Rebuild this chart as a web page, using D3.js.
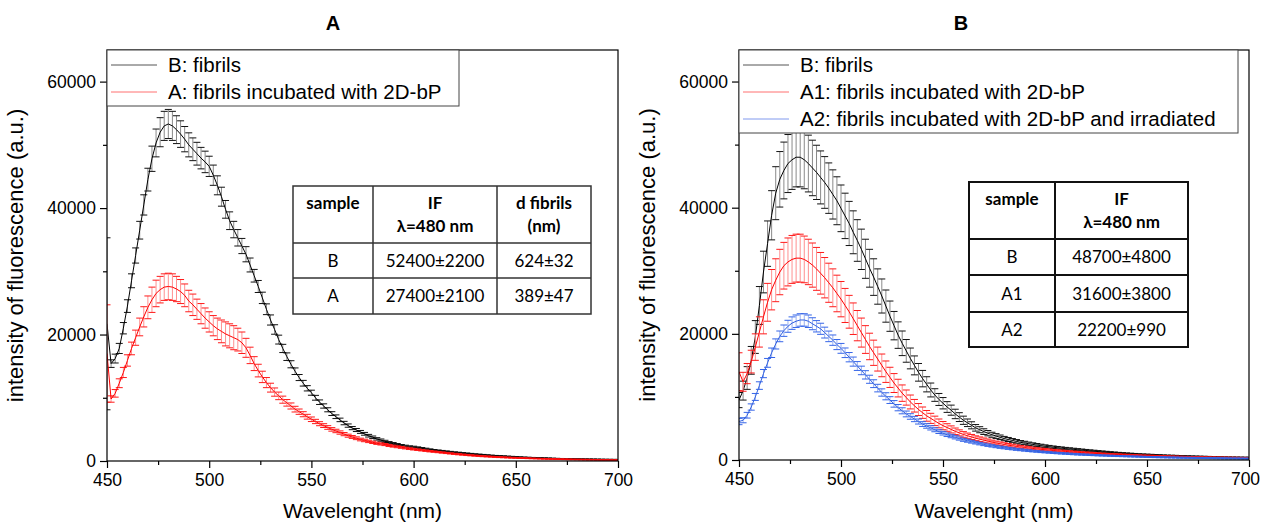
<!DOCTYPE html>
<html lang="en">
<head>
<meta charset="UTF-8">
<title>Fluorescence spectra of fibrils</title>
<style>
    body { margin: 0; background: #fff; }
    svg text { font-family: "Liberation Sans", Arial, sans-serif; }
    .tbl text { font-family: Lato, "Open Sans", sans-serif; }
</style>
</head>
<body>
<div id="chart"></div>
<script src="https://cdn.jsdelivr.net/npm/d3@7"></script>
<script>
// wavelength grid (nm), one reading every 2 nm
const wavelengths = d3.range(450, 701, 2);
const xTicks = [450, 500, 550, 600, 650, 700];
const xMinor = [475, 525, 575, 625, 675];
const yTicks = [0, 20000, 40000, 60000];
const yMinor = [10000, 30000, 50000];

// panel A, B: fibrils
const aFibrils = [
    21700, 15400, 16200, 17800, 21000, 24500, 28500, 32500, 36500, 40500, 44500, 47800, 50300, 52000, 53000, 53300, 53000, 52400, 51700, 50900, 50000, 49300, 48600, 47900, 47300,
    46600, 45200, 43600, 41800, 39800, 38000, 36600, 35300, 34000, 32700, 31000, 29300, 27600, 25800, 24000, 22300, 20800, 19200, 17800, 16500, 15300, 14200, 13200, 12300, 11500,
    10800, 10000, 9300, 8700, 8100, 7500, 7000, 6500, 6000, 5600, 5200, 4900, 4600, 4300, 4000, 3750, 3500, 3300, 3100, 2900, 2750, 2600, 2450, 2350, 2250,
    2200, 2100, 2000, 1900, 1800, 1700, 1630, 1560, 1490, 1420, 1350, 1290, 1230, 1170, 1110, 1050, 1000, 950, 900, 850, 800, 770, 740, 700, 660,
    620, 590, 560, 530, 500, 480, 460, 440, 420, 400, 370, 350, 330, 320, 310, 300, 290, 280, 270, 260, 250, 240, 230, 220, 210, 200
];
const aFibrilsErr = [
    13600, 600, 700, 800, 900, 1000, 1100, 1200, 1400, 1600, 1800, 2000, 2200, 2300, 2300, 2300, 2300, 2200, 2100, 2000, 1900, 1800, 1800, 1700, 1700,
    1600, 1600, 1500, 1500, 1400, 1400, 1300, 1300, 1200, 1200, 1100, 1000, 950, 900, 850, 800, 750, 700, 650, 600, 560, 520, 480, 450, 420,
    400, 380, 360, 340, 320, 300, 290, 280, 270, 260, 250, 240, 230, 220, 210, 200, 190, 180, 175, 170, 165, 160, 155, 150, 145,
    140, 135, 130, 125, 120, 115, 110, 108, 106, 104, 102, 100, 98, 96, 94, 92, 90, 88, 86, 84, 82, 80, 78, 76, 74,
    72, 70, 68, 66, 64, 62, 60, 58, 56, 54, 52, 50, 50, 50, 50, 50, 50, 50, 50, 50, 50, 50, 50, 50, 50, 50
];
// panel A, A: fibrils incubated with 2D-bP
const aIncubated = [
    17000, 9800, 10700, 12300, 14000, 15900, 17800, 19500, 21200, 22800, 24300, 25500, 26500, 27100, 27500, 27600, 27500, 27200, 26800, 26200, 25300, 24700, 24000, 23300, 22600,
    22000, 21400, 20900, 20500, 20100, 19800, 19500, 19200, 18700, 17900, 16700, 15400, 14300, 13300, 12400, 11600, 10900, 10300, 9700, 9200, 8700, 8200, 7800, 7400, 7000,
    6600, 6250, 5900, 5600, 5300, 5000, 4750, 4500, 4250, 4000, 3800, 3600, 3400, 3250, 3100, 2950, 2800, 2700, 2600, 2450, 2350, 2250, 2150, 2050, 1950,
    1870, 1790, 1710, 1630, 1550, 1480, 1410, 1340, 1270, 1200, 1130, 1070, 1010, 950, 900, 850, 800, 760, 720, 680, 640, 610, 580, 550, 520,
    500, 475, 450, 430, 410, 390, 370, 350, 335, 320, 300, 285, 270, 255, 240, 230, 220, 210, 200, 190, 170, 160, 150, 140, 135, 130
];
const aIncubatedErr = [
    7700, 500, 600, 700, 800, 900, 1000, 1200, 1400, 1600, 1800, 2000, 2100, 2100, 2100, 2100, 2100, 2000, 1900, 1800, 1700, 1700, 1600, 1600, 1600,
    1600, 1600, 1700, 1800, 1900, 1900, 1900, 1800, 1700, 1500, 1300, 1100, 1000, 900, 800, 700, 650, 600, 560, 520, 480, 450, 420, 400, 380,
    360, 340, 320, 300, 290, 280, 270, 260, 250, 240, 230, 220, 210, 200, 190, 180, 175, 170, 165, 160, 155, 150, 145, 140, 135,
    130, 125, 120, 115, 110, 105, 100, 98, 96, 94, 92, 90, 88, 86, 84, 82, 80, 78, 76, 74, 72, 70, 68, 66, 64,
    62, 60, 58, 56, 54, 52, 50, 50, 50, 50, 50, 50, 50, 50, 50, 50, 50, 50, 50, 50, 50, 50, 50, 50, 50, 50
];

// panel B, B: fibrils
const bFibrils = [
    9500, 11000, 13000, 15800, 19500, 24500, 29800, 34300, 38800, 42300, 44500, 45900, 47000, 47600, 48000, 48000, 47600, 47000, 46300, 45600, 44800, 44000, 43100, 42100, 41100,
    39900, 38700, 37500, 36100, 34800, 33400, 31900, 30400, 29000, 27500, 26000, 24400, 22800, 21300, 19800, 18500, 17300, 16100, 15000, 13900, 12900, 12000, 11100, 10300, 9600,
    9000, 8400, 7900, 7300, 6800, 6300, 5900, 5500, 5100, 4800, 4500, 4250, 4000, 3800, 3600, 3400, 3250, 3100, 2950, 2800, 2700, 2580, 2470, 2370, 2270,
    2180, 2100, 2020, 1950, 1880, 1810, 1750, 1690, 1630, 1570, 1510, 1450, 1400, 1340, 1290, 1240, 1190, 1140, 1090, 1050, 1010, 970, 930, 890, 860,
    830, 800, 770, 740, 710, 680, 660, 640, 610, 590, 570, 550, 530, 510, 490, 470, 450, 440, 420, 400, 390, 380, 370, 360, 350, 340
];
const bFibrilsErr = [
    1200, 1500, 1800, 2200, 2600, 3000, 3300, 3600, 3900, 4200, 4400, 4500, 4600, 4700, 4700, 4700, 4600, 4500, 4400, 4300, 4200, 4100, 4000, 3900, 3800,
    3700, 3600, 3500, 3400, 3300, 3200, 3100, 3000, 2900, 2800, 2700, 2550, 2400, 2250, 2100, 1950, 1800, 1650, 1500, 1400, 1300, 1200, 1100, 1000, 950,
    900, 850, 800, 750, 700, 650, 600, 560, 520, 480, 450, 420, 400, 380, 360, 340, 320, 300, 290, 280, 270, 260, 250, 240, 230,
    220, 210, 200, 195, 190, 185, 180, 175, 170, 165, 160, 155, 150, 145, 140, 135, 130, 125, 120, 115, 110, 108, 106, 104, 102,
    100, 100, 100, 100, 100, 100, 100, 100, 100, 100, 100, 100, 100, 100, 100, 100, 100, 100, 100, 100, 100, 100, 100, 100, 100, 100
];
// panel B, A1: fibrils incubated with 2D-bP
const bIncubated = [
    14000, 12400, 13700, 15600, 17900, 20300, 22700, 25000, 27000, 28500, 29800, 30800, 31400, 31800, 32000, 32000, 31800, 31400, 30900, 30300, 29600, 28900, 28100, 27300, 26400,
    25500, 24500, 23500, 22400, 21300, 20200, 19100, 18000, 17000, 16000, 15000, 14000, 13100, 12200, 11400, 10600, 9900, 9200, 8600, 8000, 7500, 7000, 6600, 6200, 5800,
    5450, 5150, 4850, 4550, 4300, 4050, 3850, 3650, 3450, 3300, 3150, 3000, 2850, 2700, 2580, 2460, 2350, 2250, 2150, 2060, 1980, 1900, 1830, 1760, 1690,
    1630, 1570, 1510, 1460, 1410, 1360, 1310, 1260, 1220, 1180, 1140, 1100, 1060, 1020, 980, 950, 920, 890, 860, 830, 800, 780, 750, 730, 700,
    680, 660, 640, 620, 600, 580, 560, 540, 520, 500, 480, 470, 450, 440, 420, 410, 400, 390, 380, 370, 360, 350, 340, 330, 320, 310
];
const bIncubatedErr = [
    3000, 1500, 1600, 1800, 2100, 2400, 2700, 3000, 3200, 3400, 3600, 3700, 3800, 3800, 3800, 3800, 3700, 3600, 3500, 3400, 3300, 3200, 3100, 3000, 2900,
    2800, 2700, 2600, 2500, 2400, 2300, 2200, 2100, 2000, 1900, 1800, 1700, 1600, 1500, 1400, 1300, 1200, 1100, 1000, 950, 900, 850, 800, 750, 700,
    650, 600, 560, 520, 480, 450, 420, 400, 380, 360, 340, 320, 300, 290, 280, 270, 260, 250, 240, 230, 220, 210, 200, 195, 190,
    185, 180, 175, 170, 165, 160, 155, 150, 145, 140, 135, 130, 125, 120, 115, 110, 108, 106, 104, 102, 100, 98, 96, 94, 92,
    90, 88, 86, 84, 82, 80, 80, 80, 80, 80, 80, 80, 80, 80, 80, 80, 80, 80, 80, 80, 80, 80, 80, 80, 80, 80
];
// panel B, A2: fibrils incubated with 2D-bP and irradiated
const bIrradiated = [
    6100, 6300, 7100, 8400, 10000, 11800, 13700, 15400, 17000, 18400, 19600, 20500, 21200, 21700, 22000, 22200, 22200, 22000, 21600, 21200, 20800, 20200, 19600, 19000, 18300,
    17700, 17000, 16300, 15600, 14900, 14200, 13500, 12800, 12100, 11400, 10700, 10100, 9500, 8900, 8300, 7800, 7300, 6900, 6500, 6100, 5700, 5400, 5100, 4800, 4500,
    4250, 4000, 3800, 3600, 3400, 3200, 3050, 2900, 2750, 2600, 2470, 2350, 2240, 2130, 2030, 1940, 1850, 1770, 1690, 1620, 1550, 1480, 1420, 1360, 1300,
    1250, 1200, 1150, 1100, 1060, 1020, 980, 940, 900, 870, 840, 810, 780, 750, 720, 700, 670, 650, 630, 610, 590, 570, 550, 530, 510,
    490, 470, 460, 440, 430, 410, 400, 390, 370, 360, 350, 340, 330, 320, 310, 300, 290, 280, 270, 260, 250, 240, 240, 230, 220, 210
];
const bIrradiatedErr = [
    500, 400, 450, 500, 550, 600, 650, 700, 750, 800, 850, 900, 950, 990, 990, 990, 990, 990, 950, 900, 880, 860, 840, 820, 800,
    780, 760, 740, 720, 700, 680, 660, 640, 620, 600, 580, 560, 540, 520, 500, 480, 460, 440, 420, 400, 380, 360, 340, 320, 300,
    290, 280, 270, 260, 250, 240, 230, 220, 210, 200, 195, 190, 185, 180, 175, 170, 165, 160, 155, 150, 145, 140, 135, 130, 125,
    120, 118, 116, 114, 112, 110, 108, 106, 104, 102, 100, 98, 96, 94, 92, 90, 88, 86, 84, 82, 80, 80, 80, 80, 80,
    80, 80, 80, 80, 80, 80, 80, 80, 80, 80, 80, 80, 80, 80, 80, 80, 80, 80, 80, 80, 80, 80, 80, 80, 80, 80
];

// inset tables
const tableAHeader = [["sample"], ["IF", "\u03bb=480 nm"], ["d fibrils", "(nm)"]];
const tableARows = [["B", "52400\u00b12200", "624\u00b132"], ["A", "27400\u00b12100", "389\u00b147"]];
const tableBHeader = [["sample"], ["IF", "\u03bb=480 nm"]];
const tableBRows = [["B", "48700\u00b14800"], ["A1", "31600\u00b13800"], ["A2", "22200\u00b1990"]];

const BLACK = { line: "#000", cap: "#111", bar: "#8a8a8a", legend: "#555" };
const RED = { line: "#ff0000", cap: "#ff1a1a", bar: "#ff9090", legend: "#ff7070" };
const BLUE = { line: "#3060e0", cap: "#3565e8", bar: "#9ab0f0", legend: "#8099ee" };
</script>
<script>
const width = 1261, height = 524;
const svg = d3.select("#chart").append("svg")
    .attr("width", width)
    .attr("height", height)
    .attr("viewBox", [0, 0, width, height]);

function drawPanel(p) {
    const x = d3.scaleLinear().domain([450, 700]).range([p.left, p.right]);
    const y = d3.scaleLinear().domain([0, 65000]).range([p.bottom, p.top]);
    const g = svg.append("g");

    g.append("clipPath").attr("id", "clip" + p.id)
        .append("rect")
        .attr("x", p.left).attr("y", p.top)
        .attr("width", p.right - p.left).attr("height", p.bottom - p.top);

    const plot = g.append("g").attr("clip-path", `url(#clip${p.id})`);

    p.series.forEach(s => {
        const pts = wavelengths.map((w, i) => ({ w: w, v: s.values[i], e: s.errors[i] }));
        const sg = plot.append("g");
        sg.append("g").selectAll("line").data(pts).join("line")
            .attr("x1", d => x(d.w)).attr("x2", d => x(d.w))
            .attr("y1", d => y(d.v - d.e)).attr("y2", d => y(d.v + d.e))
            .attr("stroke", s.style.bar).attr("stroke-width", 1);
        const caps = pts.flatMap(d => [d.v - d.e, d.v + d.e].map(c => ({ w: d.w, c: c })));
        sg.append("g").selectAll("line").data(caps).join("line")
            .attr("x1", d => x(d.w) - 3.5).attr("x2", d => x(d.w) + 3.5)
            .attr("y1", d => y(d.c)).attr("y2", d => y(d.c))
            .attr("stroke", s.style.cap).attr("stroke-width", 1);
        sg.append("path").datum(pts)
            .attr("fill", "none")
            .attr("stroke", s.style.line)
            .attr("stroke-width", 1)
            .attr("d", d3.line().x(d => x(d.w)).y(d => y(d.v)));
    });

    // frame
    g.append("rect")
        .attr("x", p.left).attr("y", p.top)
        .attr("width", p.right - p.left).attr("height", p.bottom - p.top)
        .attr("fill", "none").attr("stroke", "#000").attr("stroke-width", 1.2);

    // axes
    const xAxis = g.append("g").attr("transform", `translate(0,${p.bottom})`)
        .call(d3.axisBottom(x).tickValues(xTicks).tickSize(7).tickPadding(6).tickFormat(d3.format("d")));
    g.append("g").attr("transform", `translate(0,${p.bottom})`)
        .call(d3.axisBottom(x).tickValues(xMinor).tickSize(4).tickFormat(""))
        .call(a => a.select(".domain").remove());
    const yAxis = g.append("g").attr("transform", `translate(${p.left},0)`)
        .call(d3.axisLeft(y).tickValues(yTicks).tickSize(7).tickPadding(4).tickFormat(d3.format("d")));
    g.append("g").attr("transform", `translate(${p.left},0)`)
        .call(d3.axisLeft(y).tickValues(yMinor).tickSize(4).tickFormat(""))
        .call(a => a.select(".domain").remove());
    [xAxis, yAxis].forEach(a => {
        a.select(".domain").remove();
        a.selectAll("text").attr("font-size", 17.5).attr("fill", "#000")
            .attr("font-family", "'Liberation Sans', Arial, sans-serif");
    });
    // keep the last x label inside the page
    xAxis.selectAll(".tick text").filter(d => d === 700).attr("dx", p.lastLabelShift);
    g.selectAll(".tick line").attr("stroke", "#000").attr("stroke-width", 1.2);

    // axis titles and panel letter
    g.append("text")
        .attr("x", (p.left + p.right) / 2).attr("y", 518)
        .attr("text-anchor", "middle").attr("font-size", 21)
        .text("Wavelenght (nm)");
    g.append("text")
        .attr("transform", `translate(${p.left - 84},${(p.top + p.bottom) / 2}) rotate(-90)`)
        .attr("text-anchor", "middle").attr("font-size", 22)
        .text("intensity of fluorescence (a.u.)");
    g.append("text")
        .attr("x", p.titleX).attr("y", 30)
        .attr("text-anchor", "middle").attr("font-size", 20).attr("font-weight", "bold")
        .text(p.title);

    // legend
    const rowH = 27;
    const lg = g.append("g").attr("transform", `translate(${p.left},${p.top})`);
    lg.append("rect")
        .attr("width", p.legendW).attr("height", p.series.length * rowH + 2)
        .attr("fill", "#fff").attr("stroke", "#444").attr("stroke-width", 1);
    p.series.forEach((s, i) => {
        const cy = 15 + i * rowH;
        lg.append("line").attr("x1", 4).attr("x2", 50).attr("y1", cy).attr("y2", cy)
            .attr("stroke", s.style.legend).attr("stroke-width", 1);
        lg.append("text").attr("x", 61).attr("y", cy + 7).attr("font-size", 20.5)
            .text(s.label);
    });
}

function drawTable(t) {
    const g = svg.append("g").attr("class", "tbl");
    const x0 = t.cols[0], x1 = t.cols[t.cols.length - 1];
    const y0 = t.rows[0], y1 = t.rows[t.rows.length - 1];
    g.append("rect").attr("x", x0).attr("y", y0).attr("width", x1 - x0).attr("height", y1 - y0)
        .attr("fill", "#fff").attr("stroke", t.stroke).attr("stroke-width", t.sw);
    t.cols.slice(1, -1).forEach(c => g.append("line")
        .attr("x1", c).attr("x2", c).attr("y1", y0).attr("y2", y1)
        .attr("stroke", t.stroke).attr("stroke-width", t.sw));
    t.rows.slice(1, -1).forEach(r => g.append("line")
        .attr("x1", x0).attr("x2", x1).attr("y1", r).attr("y2", r)
        .attr("stroke", t.stroke).attr("stroke-width", t.sw));
    t.header.forEach((lines, ci) => {
        const cx = (t.cols[ci] + t.cols[ci + 1]) / 2;
        lines.forEach((s, li) => g.append("text")
            .attr("x", cx).attr("y", y0 + 23 + li * 23)
            .attr("text-anchor", "middle").attr("font-size", 17).attr("font-weight", "bold")
            .text(s));
    });
    t.body.forEach((row, ri) => {
        const cy = (t.rows[ri + 1] + t.rows[ri + 2]) / 2;
        row.forEach((s, ci) => g.append("text")
            .attr("x", (t.cols[ci] + t.cols[ci + 1]) / 2).attr("y", cy + 6)
            .attr("text-anchor", "middle").attr("font-size", 17)
            .text(s));
    });
}

drawPanel({
    id: "A", title: "A", titleX: 333, lastLabelShift: 0,
    left: 107, right: 618, top: 50, bottom: 461, legendW: 352,
    series: [
        { label: "B: fibrils", values: aFibrils, errors: aFibrilsErr, style: BLACK },
        { label: "A: fibrils incubated with 2D-bP", values: aIncubated, errors: aIncubatedErr, style: RED }
    ]
});
drawPanel({
    id: "B", title: "B", titleX: 961, lastLabelShift: -4,
    left: 739, right: 1249, top: 50, bottom: 460, legendW: 499,
    series: [
        { label: "B: fibrils", values: bFibrils, errors: bFibrilsErr, style: BLACK },
        { label: "A1: fibrils incubated with 2D-bP", values: bIncubated, errors: bIncubatedErr, style: RED },
        { label: "A2: fibrils incubated with 2D-bP and irradiated", values: bIrradiated, errors: bIrradiatedErr, style: BLUE }
    ]
});

drawTable({
    cols: [293, 373, 497, 591], rows: [186, 243, 278, 314],
    header: tableAHeader, body: tableARows, stroke: "#333", sw: 1.5
});
drawTable({
    cols: [969, 1055, 1188], rows: [182, 239, 275, 312, 347],
    header: tableBHeader, body: tableBRows, stroke: "#111", sw: 2
});
</script>
</body>
</html>
